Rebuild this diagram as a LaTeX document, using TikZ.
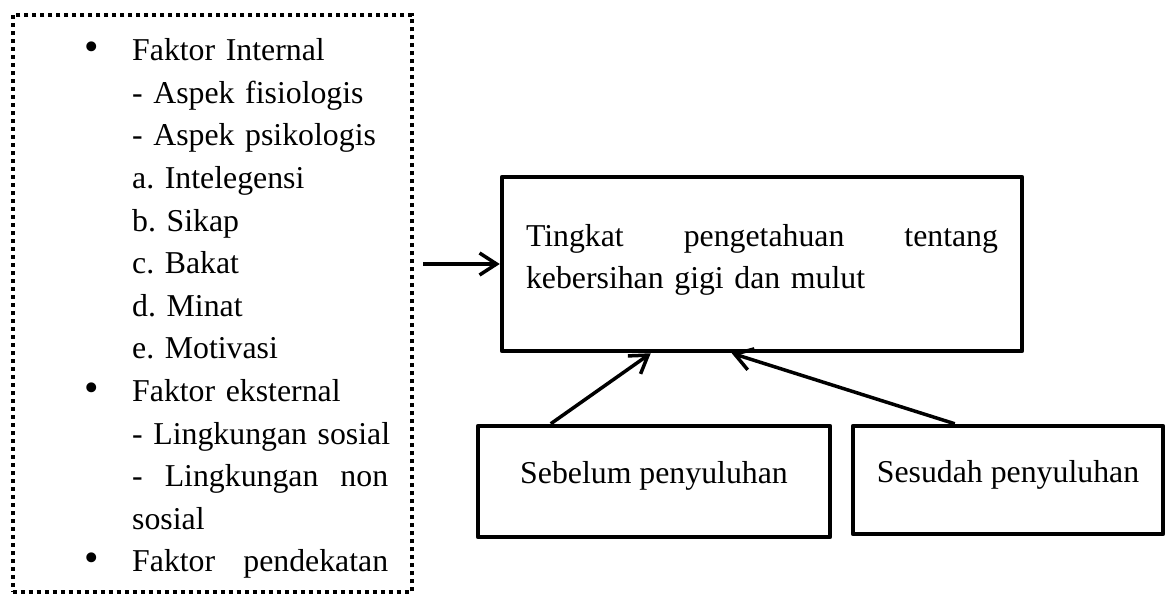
\documentclass[tikz,border=0pt]{standalone}
\usepackage{fontspec}
\setmainfont{Liberation Serif}
\usetikzlibrary{arrows.meta}
\newcommand{\bul}{\leavevmode\llap{\scalebox{1.3}{•}\hspace{33pt}}}
\begin{document}
\frenchspacing
\begin{tikzpicture}[x=1pt,y=-1pt,
  font=\fontsize{31.8pt}{42.6pt}\selectfont\frenchspacing,
  box/.style={draw, line width=4.5pt, line join=round, inner sep=0pt},
  dotbox/.style={draw, line width=4pt, dash pattern=on 4pt off 4pt, inner sep=0pt},
  arr/.style={line width=3.5pt, -{Straight Barb[length=17pt,width=22pt]}}]
\useasboundingbox (0,0) rectangle (1168,597);
% dotted box with list
\node[dotbox, minimum width=399.3pt, minimum height=577pt] (faktor) at (212.35,303.5) {};
\node[inner sep=0pt, anchor=north west, text width=256pt, align=left] (list) at (132,38.5)
{\rule{0pt}{22pt}\bul\mbox{Faktor Internal}\\
\mbox{- Aspek fisiologis}\\
\mbox{- Aspek psikologis}\\
\mbox{a. Intelegensi}\\
\mbox{b. Sikap}\\
\mbox{c. Bakat}\\
\mbox{d. Minat}\\
\mbox{e. Motivasi}\\
\bul\mbox{Faktor eksternal}\\
\mbox{- Lingkungan sosial}\\
-\hfill Lingkungan\hfill non\\
\mbox{sosial}\\
\bul Faktor\hfill pendekatan};
% main box
\node[box, minimum width=520pt, minimum height=174pt, text width=472pt, inner xsep=24pt, align=left] (main) at (762,264)
{Tingkat\hfill pengetahuan\hfill tentang\\kebersihan gigi dan mulut\rule[-15pt]{0pt}{15pt}};
% lower boxes
\node[box, minimum width=352pt, minimum height=111pt, text height=22pt, text depth=19pt] (sebelum) at (654,481.5) {Sebelum penyuluhan};
\node[box, minimum width=310pt, minimum height=108pt, text height=22pt, text depth=18pt] (sesudah) at (1008,480) {Sesudah penyuluhan};
% arrows
\draw[arr] ([xshift=9pt]faktor.east |- main.west) -- (main.west);
\draw[arr] ([xshift=75pt]sebelum.north west) -- ([xshift=151pt]main.south west);
\draw[arr] ([xshift=104pt]sesudah.north west) -- ([xshift=232pt]main.south west);
\end{tikzpicture}
\end{document}
